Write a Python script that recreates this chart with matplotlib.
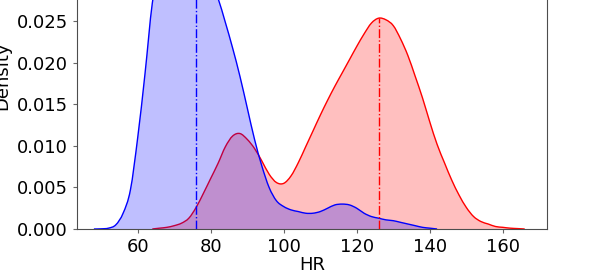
import numpy as np
import matplotlib
matplotlib.use('Agg')
import matplotlib.pyplot as plt
from matplotlib.path import Path
from matplotlib.patches import PathPatch

# density curves (HR on a 2-beat grid)
hr_a = np.arange(48, 144, 2)
dens_a = [0, 0.00002, 0.0001, 0.0005, 0.0019, 0.0047, 0.0110, 0.0187, 0.0272, 0.0318,
          0.0343, 0.0353, 0.0352, 0.0345, 0.0333, 0.0318, 0.0300, 0.0278, 0.0249, 0.0218,
          0.0184, 0.0146, 0.0108, 0.0076, 0.0050, 0.0034, 0.0027, 0.0023, 0.0021, 0.0019,
          0.0019, 0.0021, 0.0025, 0.0029, 0.0030, 0.0029, 0.0025, 0.0019, 0.0015, 0.0013,
          0.0011, 0.0010, 0.0008, 0.0006, 0.0004, 0.0002, 0.0001, 0]
mean_a = 76.0

hr_b = np.arange(64, 168, 2)
dens_b = [0, 0.0001, 0.0002, 0.0004, 0.0007, 0.0013, 0.0026, 0.0043, 0.0061, 0.0079,
          0.0099, 0.0112, 0.0115, 0.0108, 0.0097, 0.0082, 0.0066, 0.0056, 0.0055, 0.0064,
          0.0080, 0.0099, 0.0118, 0.0137, 0.0155, 0.0172, 0.0188, 0.0204, 0.0220, 0.0235,
          0.0248, 0.0254, 0.0252, 0.0245, 0.0229, 0.0209, 0.0184, 0.0158, 0.0129, 0.0102,
          0.0080, 0.0059, 0.0041, 0.0026, 0.0015, 0.0009, 0.0006, 0.0003, 0.0002, 0.0001,
          0.00005, 0]
mean_b = 126.1


def smooth_path(x, y, closed=False):
    # catmull-rom segments as cubic beziers so the curve renders smooth
    p = np.column_stack([x, y]).astype(float)
    pp = np.vstack([p[0], p, p[-1]])
    verts = [p[0]]
    codes = [Path.MOVETO]
    for i in range(1, len(pp) - 2):
        c1 = pp[i] + (pp[i + 1] - pp[i - 1]) / 6
        c2 = pp[i + 1] - (pp[i + 2] - pp[i]) / 6
        verts += [c1, c2, pp[i + 1]]
        codes += [Path.CURVE4] * 3
    if closed:
        verts += [(x[-1], 0), (x[0], 0), (x[0], 0)]
        codes += [Path.LINETO, Path.LINETO, Path.CLOSEPOLY]
    return Path(verts, codes)


def kde_curve(ax, x, y, color):
    ax.add_patch(PathPatch(smooth_path(x, y, True), facecolor=color, alpha=0.25, lw=0))
    ax.add_patch(PathPatch(smooth_path(x, y), fill=False, edgecolor=color, lw=1))


fig = plt.figure(figsize=(5.98, 2.73), dpi=100)
ax = fig.add_axes([0.1283, 0.1612, 0.787, 1.125])

# red group first, blue on top
kde_curve(ax, hr_b, dens_b, 'red')
ax.vlines(mean_b, 0, np.interp(mean_b, hr_b, dens_b), color='red', ls='-.', lw=1)

kde_curve(ax, hr_a, dens_a, 'blue')
ax.vlines(mean_a, 0, np.interp(mean_a, hr_a, dens_a), color='blue', ls='-.', lw=1)

ax.set_xlim(43.3, 172.2)
ax.set_ylim(0, 0.037)
ax.set_xticks([60, 80, 100, 120, 140, 160])
ax.set_yticks([0, 0.005, 0.01, 0.015, 0.02, 0.025, 0.03, 0.035])
ax.yaxis.set_major_formatter(matplotlib.ticker.FormatStrFormatter('%.3f'))
ax.tick_params(labelsize=13, length=3, color='0.4')
for s in ax.spines.values():
    s.set_color('0.3')
    s.set_linewidth(0.8)
ax.set_xlabel('HR', fontsize=13, labelpad=0)
ax.set_ylabel('Density', fontsize=13)

fig.savefig('out.png', dpi=100)
